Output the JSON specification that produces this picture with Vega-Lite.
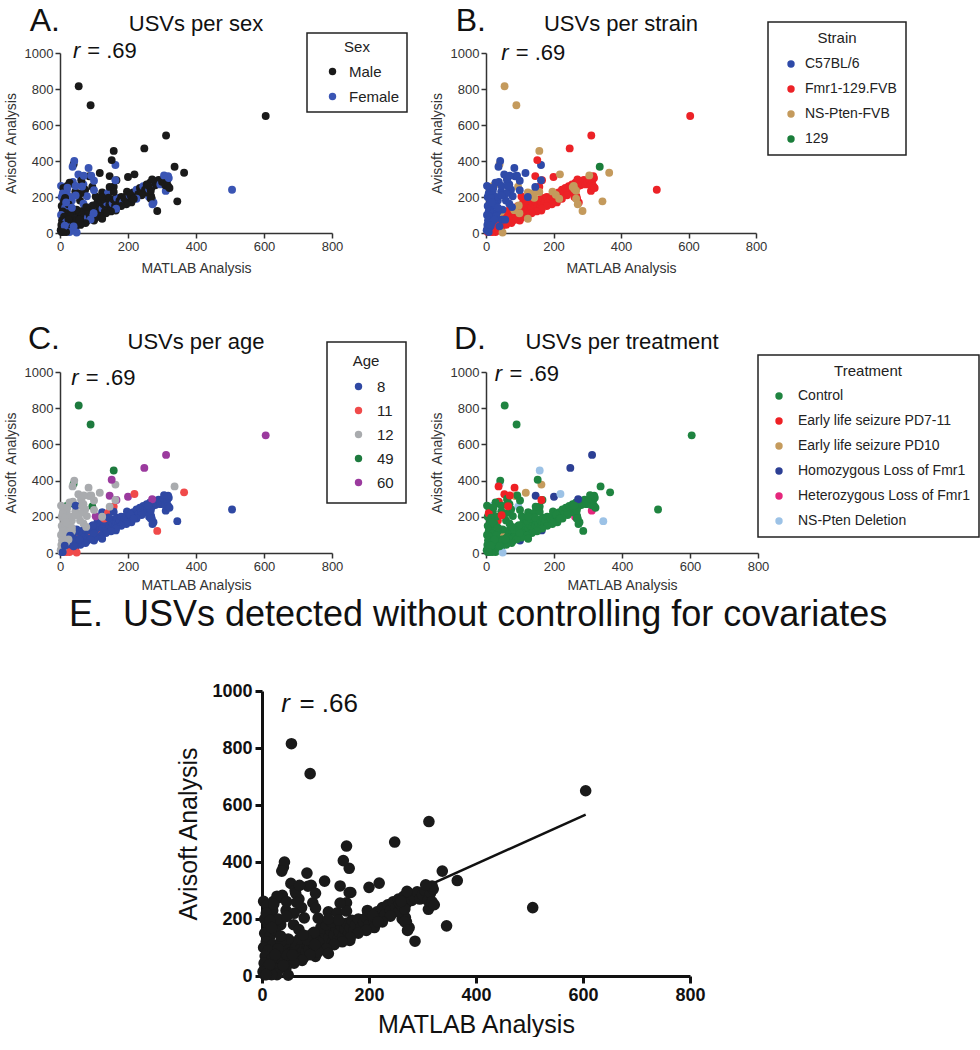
{
"$schema": "https://vega.github.io/schema/vega-lite/v6.json",
"background": "white",
"padding": {"left": 4, "top": 4, "right": 0, "bottom": 0},
"config": {
 "view": {"stroke": null},
 "font": "Liberation Sans",
 "axis": {"grid": false, "domainColor": "#333", "tickColor": "#333", "labelColor": "#333", "titleColor": "#333", "labelFont": "Liberation Sans", "titleFont": "Liberation Sans", "titleFontWeight": "normal", "labelFontSize": 13, "titleFontSize": 14, "domainWidth": 1.5, "tickWidth": 1.5, "tickSize": 5, "labelFlush": false, "labelOverlap": false, "labelPadding": 2, "titlePadding": 6, "tickCount": 12},
 "legend": {"orient": "none", "strokeColor": "#222", "strokeWidth": 1.5, "padding": 7, "titleFontWeight": "normal", "titleFontSize": 15, "labelFontSize": 15, "titleFont": "Liberation Sans", "labelFont": "Liberation Sans", "titleColor": "#222", "labelColor": "#222", "titleAnchor": "middle", "symbolType": "circle", "symbolSize": 55, "symbolStrokeWidth": 0, "rowPadding": 9, "titlePadding": 9, "labelLimit": 300}
},
"datasets": {
 "fit": [{"matlab": 0, "avisoft": 55}, {"matlab": 605, "avisoft": 566}],
 "usv": [
{"matlab":5,"avisoft":5,"sex":"Male","strain":"Fmr1-129.FVB","age":"8","treatment":"Control"},
{"matlab":8,"avisoft":15,"sex":"Male","strain":"Fmr1-129.FVB","age":"8","treatment":"Control"},
{"matlab":12,"avisoft":10,"sex":"Female","strain":"Fmr1-129.FVB","age":"8","treatment":"Control"},
{"matlab":15,"avisoft":25,"sex":"Male","strain":"Fmr1-129.FVB","age":"8","treatment":"Control"},
{"matlab":18,"avisoft":12,"sex":"Male","strain":"Fmr1-129.FVB","age":"8","treatment":"Control"},
{"matlab":22,"avisoft":20,"sex":"Male","strain":"Fmr1-129.FVB","age":"8","treatment":"Control"},
{"matlab":25,"avisoft":30,"sex":"Female","strain":"Fmr1-129.FVB","age":"8","treatment":"Control"},
{"matlab":28,"avisoft":18,"sex":"Male","strain":"Fmr1-129.FVB","age":"8","treatment":"Control"},
{"matlab":30,"avisoft":40,"sex":"Male","strain":"Fmr1-129.FVB","age":"8","treatment":"Control"},
{"matlab":33,"avisoft":28,"sex":"Male","strain":"Fmr1-129.FVB","age":"8","treatment":"Control"},
{"matlab":36,"avisoft":45,"sex":"Female","strain":"Fmr1-129.FVB","age":"8","treatment":"Control"},
{"matlab":40,"avisoft":35,"sex":"Male","strain":"Fmr1-129.FVB","age":"8","treatment":"Control"},
{"matlab":42,"avisoft":55,"sex":"Male","strain":"Fmr1-129.FVB","age":"8","treatment":"Control"},
{"matlab":45,"avisoft":40,"sex":"Male","strain":"Fmr1-129.FVB","age":"8","treatment":"Control"},
{"matlab":48,"avisoft":60,"sex":"Male","strain":"Fmr1-129.FVB","age":"8","treatment":"Control"},
{"matlab":52,"avisoft":48,"sex":"Female","strain":"Fmr1-129.FVB","age":"8","treatment":"Control"},
{"matlab":55,"avisoft":70,"sex":"Male","strain":"Fmr1-129.FVB","age":"8","treatment":"Control"},
{"matlab":58,"avisoft":55,"sex":"Male","strain":"Fmr1-129.FVB","age":"8","treatment":"Control"},
{"matlab":62,"avisoft":80,"sex":"Male","strain":"Fmr1-129.FVB","age":"8","treatment":"Control"},
{"matlab":65,"avisoft":60,"sex":"Female","strain":"Fmr1-129.FVB","age":"8","treatment":"Control"},
{"matlab":68,"avisoft":90,"sex":"Male","strain":"Fmr1-129.FVB","age":"8","treatment":"Control"},
{"matlab":72,"avisoft":70,"sex":"Male","strain":"Fmr1-129.FVB","age":"8","treatment":"Control"},
{"matlab":75,"avisoft":100,"sex":"Male","strain":"Fmr1-129.FVB","age":"8","treatment":"Control"},
{"matlab":78,"avisoft":65,"sex":"Male","strain":"Fmr1-129.FVB","age":"8","treatment":"Control"},
{"matlab":82,"avisoft":85,"sex":"Female","strain":"Fmr1-129.FVB","age":"8","treatment":"Control"},
{"matlab":85,"avisoft":110,"sex":"Male","strain":"Fmr1-129.FVB","age":"8","treatment":"Control"},
{"matlab":88,"avisoft":95,"sex":"Male","strain":"Fmr1-129.FVB","age":"8","treatment":"Control"},
{"matlab":92,"avisoft":120,"sex":"Male","strain":"Fmr1-129.FVB","age":"11","treatment":"Control"},
{"matlab":95,"avisoft":80,"sex":"Male","strain":"Fmr1-129.FVB","age":"8","treatment":"Control"},
{"matlab":98,"avisoft":105,"sex":"Female","strain":"Fmr1-129.FVB","age":"8","treatment":"Control"},
{"matlab":102,"avisoft":130,"sex":"Male","strain":"Fmr1-129.FVB","age":"8","treatment":"Control"},
{"matlab":100,"avisoft":69,"sex":"Male","strain":"Fmr1-129.FVB","age":"8","treatment":"Homozygous Loss of Fmr1"},
{"matlab":105,"avisoft":95,"sex":"Male","strain":"Fmr1-129.FVB","age":"8","treatment":"Control"},
{"matlab":108,"avisoft":140,"sex":"Male","strain":"Fmr1-129.FVB","age":"8","treatment":"Control"},
{"matlab":112,"avisoft":110,"sex":"Female","strain":"Fmr1-129.FVB","age":"8","treatment":"Control"},
{"matlab":115,"avisoft":125,"sex":"Male","strain":"Fmr1-129.FVB","age":"8","treatment":"Control"},
{"matlab":118,"avisoft":150,"sex":"Male","strain":"Fmr1-129.FVB","age":"8","treatment":"Control"},
{"matlab":122,"avisoft":100,"sex":"Male","strain":"Fmr1-129.FVB","age":"11","treatment":"Control"},
{"matlab":125,"avisoft":135,"sex":"Female","strain":"Fmr1-129.FVB","age":"8","treatment":"Control"},
{"matlab":128,"avisoft":160,"sex":"Male","strain":"Fmr1-129.FVB","age":"8","treatment":"Control"},
{"matlab":132,"avisoft":120,"sex":"Male","strain":"Fmr1-129.FVB","age":"8","treatment":"Control"},
{"matlab":135,"avisoft":145,"sex":"Male","strain":"Fmr1-129.FVB","age":"8","treatment":"Control"},
{"matlab":138,"avisoft":170,"sex":"Female","strain":"Fmr1-129.FVB","age":"8","treatment":"Control"},
{"matlab":142,"avisoft":130,"sex":"Male","strain":"Fmr1-129.FVB","age":"8","treatment":"Control"},
{"matlab":145,"avisoft":155,"sex":"Male","strain":"Fmr1-129.FVB","age":"8","treatment":"Control"},
{"matlab":148,"avisoft":175,"sex":"Male","strain":"Fmr1-129.FVB","age":"8","treatment":"Control"},
{"matlab":152,"avisoft":140,"sex":"Male","strain":"Fmr1-129.FVB","age":"8","treatment":"Control"},
{"matlab":155,"avisoft":165,"sex":"Female","strain":"Fmr1-129.FVB","age":"8","treatment":"Control"},
{"matlab":158,"avisoft":185,"sex":"Male","strain":"Fmr1-129.FVB","age":"8","treatment":"Control"},
{"matlab":164,"avisoft":125,"sex":"Male","strain":"Fmr1-129.FVB","age":"8","treatment":"Homozygous Loss of Fmr1"},
{"matlab":162,"avisoft":150,"sex":"Male","strain":"Fmr1-129.FVB","age":"8","treatment":"Control"},
{"matlab":165,"avisoft":170,"sex":"Male","strain":"Fmr1-129.FVB","age":"8","treatment":"Control"},
{"matlab":168,"avisoft":195,"sex":"Female","strain":"Fmr1-129.FVB","age":"8","treatment":"Control"},
{"matlab":172,"avisoft":160,"sex":"Male","strain":"Fmr1-129.FVB","age":"8","treatment":"Control"},
{"matlab":175,"avisoft":180,"sex":"Male","strain":"Fmr1-129.FVB","age":"8","treatment":"Control"},
{"matlab":180,"avisoft":200,"sex":"Male","strain":"Fmr1-129.FVB","age":"8","treatment":"Control"},
{"matlab":185,"avisoft":170,"sex":"Female","strain":"Fmr1-129.FVB","age":"8","treatment":"Control"},
{"matlab":190,"avisoft":190,"sex":"Male","strain":"Fmr1-129.FVB","age":"8","treatment":"Control"},
{"matlab":195,"avisoft":205,"sex":"Male","strain":"Fmr1-129.FVB","age":"8","treatment":"Control"},
{"matlab":200,"avisoft":180,"sex":"Male","strain":"Fmr1-129.FVB","age":"8","treatment":"Control"},
{"matlab":205,"avisoft":210,"sex":"Female","strain":"Fmr1-129.FVB","age":"8","treatment":"Control"},
{"matlab":210,"avisoft":195,"sex":"Male","strain":"Fmr1-129.FVB","age":"8","treatment":"Control"},
{"matlab":215,"avisoft":225,"sex":"Male","strain":"Fmr1-129.FVB","age":"8","treatment":"Control"},
{"matlab":220,"avisoft":200,"sex":"Male","strain":"Fmr1-129.FVB","age":"8","treatment":"Control"},
{"matlab":225,"avisoft":240,"sex":"Female","strain":"Fmr1-129.FVB","age":"8","treatment":"Control"},
{"matlab":230,"avisoft":215,"sex":"Male","strain":"Fmr1-129.FVB","age":"8","treatment":"Control"},
{"matlab":235,"avisoft":250,"sex":"Male","strain":"Fmr1-129.FVB","age":"8","treatment":"Control"},
{"matlab":240,"avisoft":230,"sex":"Male","strain":"Fmr1-129.FVB","age":"8","treatment":"Control"},
{"matlab":245,"avisoft":260,"sex":"Female","strain":"Fmr1-129.FVB","age":"8","treatment":"Control"},
{"matlab":250,"avisoft":240,"sex":"Male","strain":"Fmr1-129.FVB","age":"8","treatment":"Control"},
{"matlab":255,"avisoft":270,"sex":"Male","strain":"Fmr1-129.FVB","age":"8","treatment":"Control"},
{"matlab":260,"avisoft":250,"sex":"Male","strain":"Fmr1-129.FVB","age":"8","treatment":"Control"},
{"matlab":262,"avisoft":200,"sex":"Female","strain":"Fmr1-129.FVB","age":"8","treatment":"Heterozygous Loss of Fmr1"},
{"matlab":265,"avisoft":280,"sex":"Male","strain":"Fmr1-129.FVB","age":"8","treatment":"Control"},
{"matlab":270,"avisoft":255,"sex":"Male","strain":"Fmr1-129.FVB","age":"8","treatment":"Control"},
{"matlab":275,"avisoft":290,"sex":"Female","strain":"Fmr1-129.FVB","age":"8","treatment":"Control"},
{"matlab":280,"avisoft":265,"sex":"Male","strain":"Fmr1-129.FVB","age":"8","treatment":"Control"},
{"matlab":285,"avisoft":275,"sex":"Male","strain":"Fmr1-129.FVB","age":"8","treatment":"Control"},
{"matlab":290,"avisoft":295,"sex":"Male","strain":"Fmr1-129.FVB","age":"8","treatment":"Control"},
{"matlab":295,"avisoft":270,"sex":"Female","strain":"Fmr1-129.FVB","age":"8","treatment":"Control"},
{"matlab":300,"avisoft":285,"sex":"Male","strain":"Fmr1-129.FVB","age":"8","treatment":"Control"},
{"matlab":305,"avisoft":300,"sex":"Male","strain":"Fmr1-129.FVB","age":"8","treatment":"Control"},
{"matlab":311,"avisoft":234,"sex":"Female","strain":"Fmr1-129.FVB","age":"8","treatment":"Heterozygous Loss of Fmr1"},
{"matlab":310,"avisoft":265,"sex":"Male","strain":"Fmr1-129.FVB","age":"8","treatment":"Control"},
{"matlab":315,"avisoft":290,"sex":"Male","strain":"Fmr1-129.FVB","age":"8","treatment":"Control"},
{"matlab":320,"avisoft":305,"sex":"Female","strain":"Fmr1-129.FVB","age":"8","treatment":"Control"},
{"matlab":318,"avisoft":316,"sex":"Female","strain":"Fmr1-129.FVB","age":"8","treatment":"Control"},
{"matlab":318,"avisoft":260,"sex":"Male","strain":"Fmr1-129.FVB","age":"8","treatment":"Control"},
{"matlab":322,"avisoft":250,"sex":"Male","strain":"Fmr1-129.FVB","age":"8","treatment":"Control"},
{"matlab":270,"avisoft":190,"sex":"Male","strain":"Fmr1-129.FVB","age":"8","treatment":"Control"},
{"matlab":275,"avisoft":170,"sex":"Female","strain":"Fmr1-129.FVB","age":"8","treatment":"Control"},
{"matlab":268,"avisoft":205,"sex":"Male","strain":"Fmr1-129.FVB","age":"8","treatment":"Control"},
{"matlab":255,"avisoft":225,"sex":"Male","strain":"Fmr1-129.FVB","age":"8","treatment":"Control"},
{"matlab":240,"avisoft":210,"sex":"Male","strain":"Fmr1-129.FVB","age":"8","treatment":"Control"},
{"matlab":225,"avisoft":190,"sex":"Female","strain":"Fmr1-129.FVB","age":"8","treatment":"Control"},
{"matlab":210,"avisoft":170,"sex":"Male","strain":"Fmr1-129.FVB","age":"8","treatment":"Control"},
{"matlab":195,"avisoft":160,"sex":"Male","strain":"Fmr1-129.FVB","age":"8","treatment":"Control"},
{"matlab":180,"avisoft":150,"sex":"Male","strain":"Fmr1-129.FVB","age":"8","treatment":"Control"},
{"matlab":165,"avisoft":135,"sex":"Female","strain":"Fmr1-129.FVB","age":"8","treatment":"Control"},
{"matlab":150,"avisoft":120,"sex":"Male","strain":"Fmr1-129.FVB","age":"8","treatment":"Control"},
{"matlab":135,"avisoft":110,"sex":"Male","strain":"Fmr1-129.FVB","age":"8","treatment":"Control"},
{"matlab":120,"avisoft":95,"sex":"Male","strain":"Fmr1-129.FVB","age":"8","treatment":"Control"},
{"matlab":105,"avisoft":85,"sex":"Male","strain":"Fmr1-129.FVB","age":"8","treatment":"Control"},
{"matlab":90,"avisoft":75,"sex":"Female","strain":"Fmr1-129.FVB","age":"8","treatment":"Control"},
{"matlab":75,"avisoft":55,"sex":"Male","strain":"Fmr1-129.FVB","age":"8","treatment":"Control"},
{"matlab":60,"avisoft":45,"sex":"Male","strain":"Fmr1-129.FVB","age":"8","treatment":"Control"},
{"matlab":45,"avisoft":30,"sex":"Male","strain":"Fmr1-129.FVB","age":"8","treatment":"Control"},
{"matlab":30,"avisoft":20,"sex":"Female","strain":"Fmr1-129.FVB","age":"8","treatment":"Control"},
{"matlab":15,"avisoft":8,"sex":"Male","strain":"Fmr1-129.FVB","age":"8","treatment":"Control"},
{"matlab":10,"avisoft":50,"sex":"Male","strain":"Fmr1-129.FVB","age":"8","treatment":"Control"},
{"matlab":20,"avisoft":45,"sex":"Male","strain":"Fmr1-129.FVB","age":"8","treatment":"Control"},
{"matlab":5,"avisoft":25,"sex":"Female","strain":"Fmr1-129.FVB","age":"8","treatment":"Control"},
{"matlab":35,"avisoft":60,"sex":"Male","strain":"Fmr1-129.FVB","age":"8","treatment":"Control"},
{"matlab":50,"avisoft":90,"sex":"Male","strain":"Fmr1-129.FVB","age":"11","treatment":"Control"},
{"matlab":40,"avisoft":80,"sex":"Female","strain":"Fmr1-129.FVB","age":"8","treatment":"Control"},
{"matlab":60,"avisoft":110,"sex":"Male","strain":"Fmr1-129.FVB","age":"8","treatment":"Control"},
{"matlab":70,"avisoft":130,"sex":"Male","strain":"Fmr1-129.FVB","age":"8","treatment":"Control"},
{"matlab":55,"avisoft":120,"sex":"Male","strain":"Fmr1-129.FVB","age":"8","treatment":"Control"},
{"matlab":30,"avisoft":65,"sex":"Male","strain":"Fmr1-129.FVB","age":"8","treatment":"Control"},
{"matlab":85,"avisoft":140,"sex":"Male","strain":"Fmr1-129.FVB","age":"8","treatment":"Control"},
{"matlab":95,"avisoft":150,"sex":"Female","strain":"Fmr1-129.FVB","age":"8","treatment":"Control"},
{"matlab":110,"avisoft":170,"sex":"Male","strain":"Fmr1-129.FVB","age":"8","treatment":"Control"},
{"matlab":120,"avisoft":180,"sex":"Male","strain":"Fmr1-129.FVB","age":"8","treatment":"Control"},
{"matlab":130,"avisoft":190,"sex":"Male","strain":"Fmr1-129.FVB","age":"11","treatment":"Control"},
{"matlab":158,"avisoft":257,"sex":"Male","strain":"Fmr1-129.FVB","age":"11","treatment":"Control"},
{"matlab":28,"avisoft":5,"sex":"Female","strain":"Fmr1-129.FVB","age":"11","treatment":"Control"},
{"matlab":18,"avisoft":5,"sex":"Male","strain":"Fmr1-129.FVB","age":"11","treatment":"Control"},
{"matlab":146,"avisoft":316,"sex":"Male","strain":"Fmr1-129.FVB","age":"60","treatment":"Homozygous Loss of Fmr1"},
{"matlab":200,"avisoft":311,"sex":"Male","strain":"Fmr1-129.FVB","age":"60","treatment":"Homozygous Loss of Fmr1"},
{"matlab":271,"avisoft":297,"sex":"Male","strain":"Fmr1-129.FVB","age":"60","treatment":"Homozygous Loss of Fmr1"},
{"matlab":105,"avisoft":203,"sex":"Male","strain":"Fmr1-129.FVB","age":"60","treatment":"Control"},
{"matlab":166,"avisoft":293,"sex":"Male","strain":"Fmr1-129.FVB","age":"60","treatment":"Control"},
{"matlab":55,"avisoft":815,"sex":"Male","strain":"NS-Pten-FVB","age":"49","treatment":"Control"},
{"matlab":90,"avisoft":710,"sex":"Male","strain":"NS-Pten-FVB","age":"49","treatment":"Control"},
{"matlab":158,"avisoft":456,"sex":"Male","strain":"NS-Pten-FVB","age":"49","treatment":"NS-Pten Deletion"},
{"matlab":40,"avisoft":382,"sex":"Male","strain":"NS-Pten-FVB","age":"49","treatment":"NS-Pten Deletion"},
{"matlab":365,"avisoft":335,"sex":"Male","strain":"NS-Pten-FVB","age":"11","treatment":"Control"},
{"matlab":345,"avisoft":176,"sex":"Male","strain":"NS-Pten-FVB","age":"8","treatment":"NS-Pten Deletion"},
{"matlab":286,"avisoft":122,"sex":"Male","strain":"NS-Pten-FVB","age":"11","treatment":"Control"},
{"matlab":219,"avisoft":326,"sex":"Male","strain":"NS-Pten-FVB","age":"11","treatment":"NS-Pten Deletion"},
{"matlab":306,"avisoft":320,"sex":"Female","strain":"NS-Pten-FVB","age":"8","treatment":"Control"},
{"matlab":257,"avisoft":255,"sex":"Male","strain":"NS-Pten-FVB","age":"8","treatment":"Control"},
{"matlab":262,"avisoft":245,"sex":"Female","strain":"NS-Pten-FVB","age":"8","treatment":"Control"},
{"matlab":267,"avisoft":235,"sex":"Male","strain":"NS-Pten-FVB","age":"8","treatment":"Control"},
{"matlab":260,"avisoft":262,"sex":"Male","strain":"NS-Pten-FVB","age":"8","treatment":"Control"},
{"matlab":267,"avisoft":190,"sex":"Male","strain":"NS-Pten-FVB","age":"8","treatment":"Control"},
{"matlab":272,"avisoft":160,"sex":"Female","strain":"NS-Pten-FVB","age":"8","treatment":"Control"},
{"matlab":197,"avisoft":230,"sex":"Male","strain":"NS-Pten-FVB","age":"8","treatment":"Control"},
{"matlab":207,"avisoft":212,"sex":"Male","strain":"NS-Pten-FVB","age":"8","treatment":"Control"},
{"matlab":217,"avisoft":190,"sex":"Male","strain":"NS-Pten-FVB","age":"8","treatment":"Control"},
{"matlab":124,"avisoft":225,"sex":"Male","strain":"NS-Pten-FVB","age":"8","treatment":"Control"},
{"matlab":141,"avisoft":222,"sex":"Female","strain":"NS-Pten-FVB","age":"11","treatment":"Control"},
{"matlab":158,"avisoft":228,"sex":"Male","strain":"NS-Pten-FVB","age":"8","treatment":"Control"},
{"matlab":143,"avisoft":196,"sex":"Male","strain":"NS-Pten-FVB","age":"8","treatment":"Control"},
{"matlab":97,"avisoft":153,"sex":"Male","strain":"NS-Pten-FVB","age":"8","treatment":"Control"},
{"matlab":124,"avisoft":79,"sex":"Male","strain":"NS-Pten-FVB","age":"8","treatment":"Control"},
{"matlab":84,"avisoft":127,"sex":"Male","strain":"NS-Pten-FVB","age":"8","treatment":"Control"},
{"matlab":99,"avisoft":110,"sex":"Female","strain":"NS-Pten-FVB","age":"8","treatment":"Control"},
{"matlab":49,"avisoft":3,"sex":"Female","strain":"NS-Pten-FVB","age":"11","treatment":"NS-Pten Deletion"},
{"matlab":21,"avisoft":261,"sex":"Male","strain":"NS-Pten-FVB","age":"49","treatment":"NS-Pten Deletion"},
{"matlab":95,"avisoft":257,"sex":"Male","strain":"NS-Pten-FVB","age":"49","treatment":"NS-Pten Deletion"},
{"matlab":44,"avisoft":117,"sex":"Male","strain":"NS-Pten-FVB","age":"8","treatment":"Early life seizure PD10"},
{"matlab":30,"avisoft":274,"sex":"Male","strain":"NS-Pten-FVB","age":"49","treatment":"Control"},
{"matlab":42,"avisoft":400,"sex":"Female","strain":"C57BL/6","age":"12","treatment":"Control"},
{"matlab":163,"avisoft":378,"sex":"Female","strain":"C57BL/6","age":"12","treatment":"Early life seizure PD10"},
{"matlab":84,"avisoft":361,"sex":"Female","strain":"C57BL/6","age":"12","treatment":"Early life seizure PD7-11"},
{"matlab":117,"avisoft":333,"sex":"Male","strain":"C57BL/6","age":"12","treatment":"Early life seizure PD10"},
{"matlab":54,"avisoft":325,"sex":"Female","strain":"C57BL/6","age":"12","treatment":"Early life seizure PD7-11"},
{"matlab":86,"avisoft":315,"sex":"Male","strain":"C57BL/6","age":"12","treatment":"Early life seizure PD10"},
{"matlab":163,"avisoft":293,"sex":"Female","strain":"C57BL/6","age":"12","treatment":"Early life seizure PD7-11"},
{"matlab":146,"avisoft":256,"sex":"Male","strain":"C57BL/6","age":"12","treatment":"Control"},
{"matlab":38,"avisoft":283,"sex":"Female","strain":"C57BL/6","age":"12","treatment":"Early life seizure PD7-11"},
{"matlab":69,"avisoft":270,"sex":"Female","strain":"C57BL/6","age":"12","treatment":"Control"},
{"matlab":74,"avisoft":240,"sex":"Male","strain":"C57BL/6","age":"12","treatment":"Control"},
{"matlab":79,"avisoft":204,"sex":"Female","strain":"C57BL/6","age":"12","treatment":"Control"},
{"matlab":20,"avisoft":230,"sex":"Female","strain":"C57BL/6","age":"12","treatment":"Control"},
{"matlab":124,"avisoft":200,"sex":"Male","strain":"C57BL/6","age":"12","treatment":"Control"},
{"matlab":49,"avisoft":130,"sex":"Male","strain":"C57BL/6","age":"8","treatment":"Control"},
{"matlab":47,"avisoft":74,"sex":"Male","strain":"C57BL/6","age":"8","treatment":"Control"},
{"matlab":57,"avisoft":74,"sex":"Male","strain":"C57BL/6","age":"8","treatment":"Control"},
{"matlab":40,"avisoft":37,"sex":"Female","strain":"C57BL/6","age":"8","treatment":"Control"},
{"matlab":35,"avisoft":180,"sex":"Female","strain":"C57BL/6","age":"12","treatment":"Early life seizure PD7-11"},
{"matlab":59,"avisoft":180,"sex":"Male","strain":"C57BL/6","age":"12","treatment":"Control"},
{"matlab":69,"avisoft":163,"sex":"Female","strain":"C57BL/6","age":"12","treatment":"Control"},
{"matlab":77,"avisoft":144,"sex":"Male","strain":"C57BL/6","age":"12","treatment":"Control"},
{"matlab":100,"avisoft":238,"sex":"Female","strain":"C57BL/6","age":"12","treatment":"Control"},
{"matlab":92,"avisoft":318,"sex":"Female","strain":"C57BL/6","age":"12","treatment":"Control"},
{"matlab":62,"avisoft":300,"sex":"Female","strain":"C57BL/6","age":"12","treatment":"Control"},
{"matlab":63,"avisoft":290,"sex":"Male","strain":"C57BL/6","age":"12","treatment":"Control"},
{"matlab":28,"avisoft":280,"sex":"Male","strain":"C57BL/6","age":"12","treatment":"Control"},
{"matlab":100,"avisoft":290,"sex":"Female","strain":"C57BL/6","age":"12","treatment":"Control"},
{"matlab":70,"avisoft":318,"sex":"Female","strain":"C57BL/6","age":"12","treatment":"Early life seizure PD7-11"},
{"matlab":3,"avisoft":262,"sex":"Female","strain":"C57BL/6","age":"12","treatment":"Control"},
{"matlab":5,"avisoft":200,"sex":"Female","strain":"C57BL/6","age":"12","treatment":"Control"},
{"matlab":10,"avisoft":250,"sex":"Male","strain":"C57BL/6","age":"12","treatment":"Control"},
{"matlab":8,"avisoft":220,"sex":"Female","strain":"C57BL/6","age":"12","treatment":"Early life seizure PD7-11"},
{"matlab":12,"avisoft":180,"sex":"Male","strain":"C57BL/6","age":"12","treatment":"Control"},
{"matlab":5,"avisoft":150,"sex":"Male","strain":"C57BL/6","age":"12","treatment":"Control"},
{"matlab":15,"avisoft":140,"sex":"Female","strain":"C57BL/6","age":"12","treatment":"Control"},
{"matlab":8,"avisoft":120,"sex":"Male","strain":"C57BL/6","age":"12","treatment":"Control"},
{"matlab":20,"avisoft":110,"sex":"Male","strain":"C57BL/6","age":"12","treatment":"Control"},
{"matlab":3,"avisoft":100,"sex":"Female","strain":"C57BL/6","age":"12","treatment":"Control"},
{"matlab":12,"avisoft":90,"sex":"Male","strain":"C57BL/6","age":"12","treatment":"Control"},
{"matlab":6,"avisoft":70,"sex":"Male","strain":"C57BL/6","age":"12","treatment":"Control"},
{"matlab":18,"avisoft":60,"sex":"Female","strain":"C57BL/6","age":"12","treatment":"Control"},
{"matlab":4,"avisoft":45,"sex":"Male","strain":"C57BL/6","age":"12","treatment":"Control"},
{"matlab":10,"avisoft":30,"sex":"Male","strain":"C57BL/6","age":"12","treatment":"Control"},
{"matlab":2,"avisoft":15,"sex":"Male","strain":"C57BL/6","age":"12","treatment":"Control"},
{"matlab":25,"avisoft":160,"sex":"Male","strain":"C57BL/6","age":"12","treatment":"Control"},
{"matlab":30,"avisoft":200,"sex":"Female","strain":"C57BL/6","age":"12","treatment":"Control"},
{"matlab":45,"avisoft":230,"sex":"Male","strain":"C57BL/6","age":"12","treatment":"Control"},
{"matlab":60,"avisoft":220,"sex":"Male","strain":"C57BL/6","age":"12","treatment":"Control"},
{"matlab":22,"avisoft":252,"sex":"Female","strain":"C57BL/6","age":"12","treatment":"Control"},
{"matlab":15,"avisoft":195,"sex":"Male","strain":"C57BL/6","age":"12","treatment":"Control"},
{"matlab":35,"avisoft":120,"sex":"Male","strain":"C57BL/6","age":"12","treatment":"Control"},
{"matlab":46,"avisoft":261,"sex":"Female","strain":"C57BL/6","age":"8","treatment":"Control"},
{"matlab":65,"avisoft":258,"sex":"Female","strain":"C57BL/6","age":"12","treatment":"Early life seizure PD7-11"},
{"matlab":46,"avisoft":209,"sex":"Female","strain":"C57BL/6","age":"12","treatment":"Early life seizure PD7-11"},
{"matlab":18,"avisoft":170,"sex":"Female","strain":"C57BL/6","age":"12","treatment":"Control"},
{"matlab":30,"avisoft":95,"sex":"Male","strain":"C57BL/6","age":"8","treatment":"Control"},
{"matlab":25,"avisoft":75,"sex":"Male","strain":"C57BL/6","age":"12","treatment":"Control"},
{"matlab":14,"avisoft":40,"sex":"Female","strain":"C57BL/6","age":"8","treatment":"Control"},
{"matlab":8,"avisoft":5,"sex":"Male","strain":"C57BL/6","age":"8","treatment":"Control"},
{"matlab":35,"avisoft":140,"sex":"Female","strain":"C57BL/6","age":"12","treatment":"Control"},
{"matlab":37,"avisoft":368,"sex":"Female","strain":"C57BL/6","age":"12","treatment":"Early life seizure PD7-11"},
{"matlab":605,"avisoft":650,"sex":"Male","strain":"Fmr1-129.FVB","age":"60","treatment":"Control"},
{"matlab":312,"avisoft":542,"sex":"Male","strain":"Fmr1-129.FVB","age":"60","treatment":"Homozygous Loss of Fmr1"},
{"matlab":248,"avisoft":470,"sex":"Male","strain":"Fmr1-129.FVB","age":"60","treatment":"Homozygous Loss of Fmr1"},
{"matlab":152,"avisoft":405,"sex":"Male","strain":"Fmr1-129.FVB","age":"60","treatment":"Control"},
{"matlab":506,"avisoft":240,"sex":"Female","strain":"Fmr1-129.FVB","age":"8","treatment":"Control"},
{"matlab":337,"avisoft":368,"sex":"Male","strain":"129","age":"12","treatment":"Control"}
 ]
},
"vconcat": [
 {
  "concat": [
   {
    "width": 272, "height": 180,
    "layer": [
     {"data": {"name": "usv"}, "mark": {"type": "circle", "size": 62, "opacity": 1},
      "encoding": {
       "x": {"field": "matlab", "type": "quantitative", "scale": {"domain": [0, 800], "nice": false}, "axis": {"values": [0, 200, 400, 600, 800], "tickCount": 12, "title": "MATLAB Analysis", "titlePadding": 8, "labelOverlap": false}},
       "y": {"field": "avisoft", "type": "quantitative", "scale": {"domain": [0, 1000], "nice": false}, "axis": {"values": [0, 200, 400, 600, 800, 1000], "tickCount": 12, "format": "d", "title": "Avisoft\u00a0 Analysis", "labelOverlap": false}},
       "color": {"field": "sex", "type": "nominal", "scale": {"domain": ["Male", "Female"], "range": ["#1a1a1a", "#3a55b4"]}, "legend": {"title": "Sex", "legendX": 247, "legendY": -20, "padding": 7, "symbolOffset": 11, "labelOffset": 9}}
      }},
     {"data": {"values": [{}]}, "mark": {"type": "text", "align": "right", "baseline": "alphabetic", "fontSize": 32, "color": "#111"},
      "encoding": {"x": {"datum": 0, "type": "quantitative"}, "y": {"datum": 1125, "type": "quantitative"}, "text": {"value": "A."}}},
     {"data": {"values": [{}]}, "mark": {"type": "text", "align": "center", "baseline": "alphabetic", "fontSize": 22, "color": "#111"},
      "encoding": {"x": {"datum": 400, "type": "quantitative"}, "y": {"datum": 1125, "type": "quantitative"}, "text": {"value": "USVs per sex"}}},
     {"data": {"values": [{}]}, "mark": {"type": "text", "align": "left", "baseline": "alphabetic", "fontSize": 22, "fontStyle": "italic", "color": "#111"},
      "encoding": {"x": {"datum": 38, "type": "quantitative"}, "y": {"datum": 975, "type": "quantitative"}, "text": {"value": "r"}}},
     {"data": {"values": [{}]}, "mark": {"type": "text", "align": "left", "baseline": "alphabetic", "fontSize": 22, "color": "#111"},
      "encoding": {"x": {"datum": 80, "type": "quantitative"}, "y": {"datum": 975, "type": "quantitative"}, "text": {"value": "= .69"}}}
    ]
   },
   {
    "width": 270, "height": 180,
    "layer": [
     {"data": {"name": "usv"}, "mark": {"type": "circle", "size": 62, "opacity": 1},
      "encoding": {
       "x": {"field": "matlab", "type": "quantitative", "scale": {"domain": [0, 800], "nice": false}, "axis": {"values": [0, 200, 400, 600, 800], "tickCount": 12, "title": "MATLAB Analysis", "titlePadding": 8, "labelOverlap": false}},
       "y": {"field": "avisoft", "type": "quantitative", "scale": {"domain": [0, 1000], "nice": false}, "axis": {"values": [0, 200, 400, 600, 800, 1000], "tickCount": 12, "format": "d", "title": "Avisoft\u00a0 Analysis", "labelOverlap": false}},
       "color": {"field": "strain", "type": "nominal", "scale": {"domain": ["C57BL/6", "Fmr1-129.FVB", "NS-Pten-FVB", "129"], "range": ["#2e4aa8", "#ec2227", "#c49a5c", "#1a7d3a"]}, "legend": {"title": "Strain", "legendX": 282, "legendY": -31, "padding": 9, "symbolOffset": 7, "labelOffset": 7, "labelFontSize": 14, "rowPadding": 11, "titlePadding": 11}}
      }},
     {"data": {"values": [{}]}, "mark": {"type": "text", "align": "right", "baseline": "alphabetic", "fontSize": 32, "color": "#111"},
      "encoding": {"x": {"datum": 0, "type": "quantitative"}, "y": {"datum": 1125, "type": "quantitative"}, "text": {"value": "B."}}},
     {"data": {"values": [{}]}, "mark": {"type": "text", "align": "center", "baseline": "alphabetic", "fontSize": 22, "color": "#111"},
      "encoding": {"x": {"datum": 400, "type": "quantitative"}, "y": {"datum": 1125, "type": "quantitative"}, "text": {"value": "USVs per strain"}}},
     {"data": {"values": [{}]}, "mark": {"type": "text", "align": "left", "baseline": "alphabetic", "fontSize": 22, "fontStyle": "italic", "color": "#111"},
      "encoding": {"x": {"datum": 45, "type": "quantitative"}, "y": {"datum": 960, "type": "quantitative"}, "text": {"value": "r"}}},
     {"data": {"values": [{}]}, "mark": {"type": "text", "align": "left", "baseline": "alphabetic", "fontSize": 22, "color": "#111"},
      "encoding": {"x": {"datum": 88, "type": "quantitative"}, "y": {"datum": 960, "type": "quantitative"}, "text": {"value": "= .69"}}}
    ]
   },
   {
    "width": 272, "height": 181,
    "layer": [
     {"data": {"name": "usv"}, "mark": {"type": "circle", "size": 62, "opacity": 1},
      "encoding": {
       "x": {"field": "matlab", "type": "quantitative", "scale": {"domain": [0, 800], "nice": false}, "axis": {"values": [0, 200, 400, 600, 800], "tickCount": 12, "title": "MATLAB Analysis", "titlePadding": 5, "labelOverlap": false}},
       "y": {"field": "avisoft", "type": "quantitative", "scale": {"domain": [0, 1000], "nice": false}, "axis": {"values": [0, 200, 400, 600, 800, 1000], "tickCount": 12, "format": "d", "title": "Avisoft\u00a0 Analysis", "labelOverlap": false}},
       "color": {"field": "age", "type": "nominal", "scale": {"domain": ["8", "11", "12", "49", "60"], "range": ["#2f48a3", "#f04a4a", "#a9abae", "#1d7a3e", "#9b3a9e"]}, "legend": {"title": "Age", "legendX": 267, "legendY": -30, "padding": 12, "symbolOffset": 12, "labelOffset": 11, "rowPadding": 8, "titlePadding": 10}}
      }},
     {"data": {"values": [{}]}, "mark": {"type": "text", "align": "right", "baseline": "alphabetic", "fontSize": 32, "color": "#111"},
      "encoding": {"x": {"datum": 0, "type": "quantitative"}, "y": {"datum": 1125, "type": "quantitative"}, "text": {"value": "C."}}},
     {"data": {"values": [{}]}, "mark": {"type": "text", "align": "center", "baseline": "alphabetic", "fontSize": 22, "color": "#111"},
      "encoding": {"x": {"datum": 400, "type": "quantitative"}, "y": {"datum": 1125, "type": "quantitative"}, "text": {"value": "USVs per age"}}},
     {"data": {"values": [{}]}, "mark": {"type": "text", "align": "left", "baseline": "alphabetic", "fontSize": 22, "fontStyle": "italic", "color": "#111"},
      "encoding": {"x": {"datum": 33, "type": "quantitative"}, "y": {"datum": 930, "type": "quantitative"}, "text": {"value": "r"}}},
     {"data": {"values": [{}]}, "mark": {"type": "text", "align": "left", "baseline": "alphabetic", "fontSize": 22, "color": "#111"},
      "encoding": {"x": {"datum": 76, "type": "quantitative"}, "y": {"datum": 930, "type": "quantitative"}, "text": {"value": "= .69"}}}
    ]
   },
   {
    "width": 272, "height": 181,
    "layer": [
     {"data": {"name": "usv"}, "mark": {"type": "circle", "size": 62, "opacity": 1},
      "encoding": {
       "x": {"field": "matlab", "type": "quantitative", "scale": {"domain": [0, 800], "nice": false}, "axis": {"values": [0, 200, 400, 600, 800], "tickCount": 12, "title": "MATLAB Analysis", "titlePadding": 5, "labelOverlap": false}},
       "y": {"field": "avisoft", "type": "quantitative", "scale": {"domain": [0, 1000], "nice": false}, "axis": {"values": [0, 200, 400, 600, 800, 1000], "tickCount": 12, "format": "d", "title": "Avisoft\u00a0 Analysis", "labelOverlap": false}},
       "color": {"field": "treatment", "type": "nominal", "scale": {"domain": ["Control", "Early life seizure PD7-11", "Early life seizure PD10", "Homozygous Loss of Fmr1", "Heterozygous Loss of Fmr1", "NS-Pten Deletion"], "range": ["#1f8440", "#ee2024", "#c59b5d", "#2c3f94", "#e5267c", "#9cc2e6"]}, "legend": {"title": "Treatment", "legendX": 272, "legendY": -17, "padding": 9, "symbolOffset": 5, "labelOffset": 12, "labelFontSize": 14, "rowPadding": 11, "titlePadding": 10}}
      }},
     {"data": {"values": [{}]}, "mark": {"type": "text", "align": "right", "baseline": "alphabetic", "fontSize": 32, "color": "#111"},
      "encoding": {"x": {"datum": 0, "type": "quantitative"}, "y": {"datum": 1125, "type": "quantitative"}, "text": {"value": "D."}}},
     {"data": {"values": [{}]}, "mark": {"type": "text", "align": "center", "baseline": "alphabetic", "fontSize": 22, "color": "#111"},
      "encoding": {"x": {"datum": 400, "type": "quantitative"}, "y": {"datum": 1125, "type": "quantitative"}, "text": {"value": "USVs per treatment"}}},
     {"data": {"values": [{}]}, "mark": {"type": "text", "align": "left", "baseline": "alphabetic", "fontSize": 22, "fontStyle": "italic", "color": "#111"},
      "encoding": {"x": {"datum": 26, "type": "quantitative"}, "y": {"datum": 950, "type": "quantitative"}, "text": {"value": "r"}}},
     {"data": {"values": [{}]}, "mark": {"type": "text", "align": "left", "baseline": "alphabetic", "fontSize": 22, "color": "#111"},
      "encoding": {"x": {"datum": 69, "type": "quantitative"}, "y": {"datum": 950, "type": "quantitative"}, "text": {"value": "= .69"}}}
    ]
   }
  ],
  "columns": 2,
  "align": "all",
  "bounds": "flush",
  "spacing": {"row": 138, "column": 154},
  "resolve": {"scale": {"color": "independent", "x": "independent", "y": "independent"}, "legend": {"color": "independent"}}
 },
 {
  "hconcat": [
   {"width": 48, "height": 285, "data": {"values": [{}]}, "mark": {"type": "text", "text": " "}, "encoding": {}},
   {
    "width": 428, "height": 285,
    "layer": [
     {"data": {"name": "fit"}, "mark": {"type": "line", "color": "#111", "strokeWidth": 2.5},
      "encoding": {"x": {"field": "matlab", "type": "quantitative", "scale": {"domain": [0, 800], "nice": false}}, "y": {"field": "avisoft", "type": "quantitative", "scale": {"domain": [0, 1000], "nice": false}}}},
     {"data": {"name": "usv"}, "mark": {"type": "circle", "size": 135, "opacity": 1, "color": "#1a1a1a"},
      "encoding": {
       "x": {"field": "matlab", "type": "quantitative", "scale": {"domain": [0, 800], "nice": false}, "axis": {"values": [0, 200, 400, 600, 800], "tickCount": 12, "format": "d", "title": "MATLAB Analysis", "domainWidth": 3, "tickWidth": 3, "tickSize": 7, "domainColor": "#111", "tickColor": "#111", "labelColor": "#111", "titleColor": "#111", "labelFontSize": 18, "labelFontWeight": "bold", "titleFontSize": 25, "labelPadding": 3, "titlePadding": 8, "labelOverlap": false}},
       "y": {"field": "avisoft", "type": "quantitative", "scale": {"domain": [0, 1000], "nice": false}, "axis": {"values": [0, 200, 400, 600, 800, 1000], "tickCount": 12, "format": "d", "title": "Avisoft Analysis", "domainWidth": 3, "tickWidth": 3, "tickSize": 7, "domainColor": "#111", "tickColor": "#111", "labelColor": "#111", "titleColor": "#111", "labelFontSize": 18, "labelFontWeight": "bold", "titleFontSize": 25, "labelPadding": 3, "titlePadding": 10, "labelOverlap": false}}
      }},
     {"data": {"values": [{}]}, "mark": {"type": "text", "align": "left", "baseline": "alphabetic", "fontSize": 26, "fontStyle": "italic", "color": "#111"},
      "encoding": {"x": {"datum": 36, "type": "quantitative"}, "y": {"datum": 926, "type": "quantitative"}, "text": {"value": "r"}}},
     {"data": {"values": [{}]}, "mark": {"type": "text", "align": "left", "baseline": "alphabetic", "fontSize": 26, "color": "#111"},
      "encoding": {"x": {"datum": 70, "type": "quantitative"}, "y": {"datum": 926, "type": "quantitative"}, "text": {"value": "= .66"}}},
     {"data": {"values": [{}]}, "mark": {"type": "text", "align": "center", "baseline": "alphabetic", "fontSize": 36, "color": "#111"},
      "encoding": {"x": {"datum": 404, "type": "quantitative"}, "y": {"datum": 1228, "type": "quantitative"}, "text": {"value": "E.\u00a0 USVs detected without controlling for covariates"}}}
    ]
   }
  ],
  "spacing": 154,
  "bounds": "flush"
 }
],
"spacing": 638,
"bounds": "flush",
"resolve": {"scale": {"color": "independent", "x": "independent", "y": "independent"}, "legend": {"color": "independent"}}
}
